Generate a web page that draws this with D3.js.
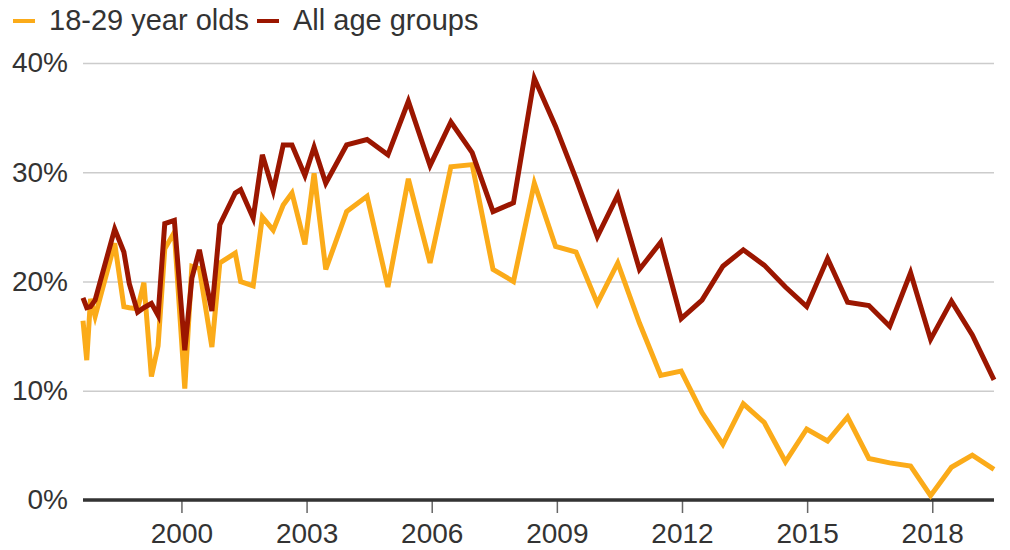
<!DOCTYPE html>
<html>
<head>
<meta charset="utf-8">
<script src="https://cdn.jsdelivr.net/npm/d3@7"></script>
<style>
  body { margin: 0; background: #fff; }
  text { font-family: "Liberation Sans", Arial, sans-serif; fill: #333; }
</style>
</head>
<body>
<svg id="canvas" width="1010" height="550"></svg>
<script>
// decimal year of each poll
let years = [1997.64, 1997.73, 1997.82, 1997.93, 1998.40, 1998.62, 1998.75, 1998.95, 1999.10, 1999.28,
  1999.44, 1999.60, 1999.83, 2000.08, 2000.25, 2000.43, 2000.73, 2000.92, 2001.29, 2001.42,
  2001.72, 2001.94, 2002.20, 2002.44, 2002.65, 2002.96, 2003.18, 2003.46, 2003.96, 2004.45,
  2004.95, 2005.44, 2005.96, 2006.46, 2006.97, 2007.47, 2007.96, 2008.46, 2008.97, 2009.46,
  2009.97, 2010.46, 2010.98, 2011.49, 2011.98, 2012.48, 2012.98, 2013.47, 2013.97, 2014.48,
  2014.99, 2015.49, 2015.97, 2016.48, 2016.98, 2017.48, 2017.96, 2018.46, 2018.96, 2019.48]

let youngShare = [16.4, 12.8, 18.4, 16.8, 23.5, 17.7, 17.6, 17.5, 19.9, 11.3,
  14.1, 23.0, 24.5, 10.2, 21.4, 21.2, 14.0, 21.7, 22.6, 20.0,
  19.6, 25.9, 24.7, 27.0, 28.1, 23.4, 29.9, 21.1, 26.4, 27.8,
  19.5, 29.4, 21.7, 30.5, 30.7, 21.1, 20.0, 29.0, 23.2, 22.7,
  18.0, 21.7, 16.2, 11.4, 11.8, 8.0, 5.1, 8.8, 7.1, 3.5,
  6.5, 5.4, 7.6, 3.8, 3.4, 3.1, 0.4, 3.0, 4.1, 2.8]

let allShare = [18.5, 17.6, 17.7, 18.3, 24.8, 22.7, 19.8, 17.2, 17.6, 18.0,
  16.9, 25.3, 25.6, 13.7, 20.3, 22.9, 17.3, 25.2, 28.1, 28.4,
  25.8, 31.6, 28.3, 32.5, 32.5, 29.7, 32.3, 29.0, 32.5, 33.0,
  31.6, 36.5, 30.6, 34.6, 31.8, 26.4, 27.2, 38.6, 34.2, 29.4,
  24.1, 27.9, 21.1, 23.6, 16.6, 18.3, 21.4, 22.9, 21.5, 19.5,
  17.7, 22.1, 18.1, 17.8, 15.9, 20.8, 14.7, 18.2, 15.1, 11.0]

let yTicks = [0, 10, 20, 30, 40]
let xTicks = [2000, 2003, 2006, 2009, 2012, 2015, 2018]

let seriesNames = ['18-29 year olds', 'All age groups']
let seriesColors = ['#fbab19', '#9b1600']

let margin = { top: 63, right: 16, bottom: 50, left: 83 }
let width = 1010
let height = 550

let canvas = d3.select('#canvas')

let xScale = d3.scaleLinear()
  .domain(d3.extent(years))
  .range([margin.left, width - margin.right])

let yScale = d3.scaleLinear()
  .domain([0, 40])
  .range([height - margin.bottom, margin.top])

// grid + y labels
let yAxis = d3.axisLeft(yScale)
  .tickValues(yTicks)
  .tickSize(-(width - margin.left - margin.right))
  .tickPadding(15)
  .tickFormat(d => d + '%')

canvas.append('g')
  .attr('transform', 'translate(' + margin.left + ',0)')
  .call(yAxis)
  .call(g => g.select('.domain').remove())
  .call(g => g.selectAll('line').attr('stroke', '#cccccc').attr('stroke-width', 1.5))
  .call(g => g.selectAll('text').style('font-size', '28px').attr('fill', '#333'))

let xAxis = d3.axisBottom(xScale)
  .tickValues(xTicks)
  .tickSize(13)
  .tickPadding(10)
  .tickFormat(d3.format('d'))

canvas.append('g')
  .attr('transform', 'translate(0,' + yScale(0) + ')')
  .call(xAxis)
  .call(g => g.select('.domain').remove())
  .call(g => g.selectAll('line').attr('stroke', '#666').attr('stroke-width', 1.5))
  .call(g => g.selectAll('text').style('font-size', '28px').attr('fill', '#333'))

// zero baseline
canvas.append('line')
  .attr('x1', margin.left)
  .attr('x2', width - margin.right)
  .attr('y1', yScale(0))
  .attr('y2', yScale(0))
  .attr('stroke', '#333')
  .attr('stroke-width', 3.5)

let seriesData = [youngShare, allShare]

let line = d3.line()
  .x((d, i) => xScale(years[i]))
  .y(d => yScale(d))

canvas.selectAll('.series')
  .data(seriesData)
  .enter()
  .append('path')
  .attr('class', 'series')
  .attr('d', d => line(d))
  .attr('fill', 'none')
  .attr('stroke', (d, i) => seriesColors[i])
  .attr('stroke-width', 5)
  .attr('stroke-linejoin', 'miter')

// legend
let legend = canvas.append('g')
let legendX = [13, 257]
seriesNames.forEach((name, i) => {
  legend.append('line')
    .attr('x1', legendX[i])
    .attr('x2', legendX[i] + 22)
    .attr('y1', 21)
    .attr('y2', 21)
    .attr('stroke', seriesColors[i])
    .attr('stroke-width', 4)
  legend.append('text')
    .attr('x', legendX[i] + 36)
    .attr('y', 30)
    .style('font-size', '29px')
    .text(name)
})
</script>
</body>
</html>
